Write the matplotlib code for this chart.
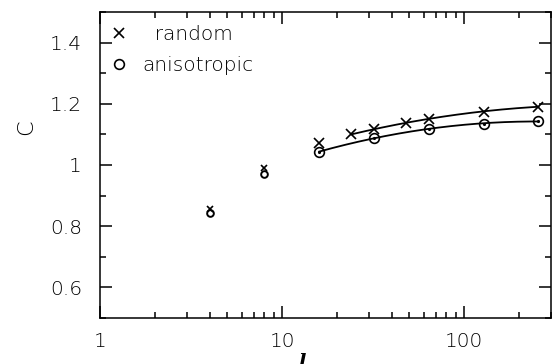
import numpy as np
import matplotlib
matplotlib.use('Agg')
import matplotlib.pyplot as plt
from matplotlib.ticker import FixedLocator, NullFormatter, MultipleLocator, FuncFormatter

plt.rcParams['font.family'] = ['DejaVu Sans']

# small lattices (no fit)
lSmall = [4, 8]
randomSmall = [0.855, 0.99]
anisoSmall = [0.844, 0.971]

# larger lattices
lRandom = [16, 24, 32, 48, 64, 128, 256]
cRandom = [1.073, 1.100, 1.118, 1.138, 1.151, 1.174, 1.191]
lAniso = [16, 32, 64, 128, 256]
cAniso = [1.043, 1.089, 1.118, 1.135, 1.143]

# range covered by the fitted curves
fitRandom = (24, 256)
fitAniso = (16, 256)


def _fitCurve(lValues, cValues, lRange):
	coeffs = np.polyfit(np.log10(lValues), cValues, 2)
	xs = np.logspace(np.log10(lRange[0]), np.log10(lRange[1]), 200)
	return xs, np.polyval(coeffs, np.log10(xs))


fig = plt.figure(figsize=(5.52, 3.64), dpi=100)
ax = fig.add_axes([100 / 552, 46 / 364, 451 / 552, 306 / 364])

xs, ys = _fitCurve(lRandom, cRandom, fitRandom)
ax.plot(xs, ys, color='black', lw=1.3)
xs, ys = _fitCurve(lAniso, cAniso, fitAniso)
ax.plot(xs, ys, color='black', lw=1.3)

ax.plot(lRandom, cRandom, ls='none', marker='x', ms=6.5, mew=1.2, color='black', label='  random')
ax.plot(lAniso, cAniso, ls='none', marker='o', ms=7, mew=1.2, mfc='none', mec='black', label='anisotropic')
ax.plot(lAniso, cAniso, ls='none', marker='.', ms=2.5, color='black')

ax.plot(lSmall, randomSmall, ls='none', marker='x', ms=4.5, mew=1.2, color='black')
ax.plot(lSmall, anisoSmall, ls='none', marker='o', ms=4.8, mew=1.4, mfc='none', mec='black')

ax.set_xscale('log')
ax.set_xlim(1, 300)
ax.set_ylim(0.5, 1.5)

ax.xaxis.set_major_locator(FixedLocator([1, 10, 100]))
ax.xaxis.set_major_formatter(FuncFormatter(lambda v, p: '{:g}'.format(v)))
ax.xaxis.set_minor_formatter(NullFormatter())
ax.yaxis.set_major_locator(FixedLocator([0.6, 0.8, 1.0, 1.2, 1.4]))
ax.yaxis.set_major_formatter(FuncFormatter(lambda v, p: '{:g}'.format(v)))
ax.yaxis.set_minor_locator(MultipleLocator(0.1))

ax.tick_params(which='both', direction='in', top=True, right=True, width=1.1,
	labelsize=14.5, colors='black', labelcolor='black')
ax.tick_params(which='major', length=8.5)
ax.tick_params(axis='y', which='major', pad=13)
ax.tick_params(axis='x', which='major', pad=10)
ax.tick_params(which='minor', length=4.3)
for spine in ax.spines.values():
	spine.set_linewidth(1.1)
for label in ax.get_xticklabels() + ax.get_yticklabels():
	label.set_fontweight('light')

ax.set_ylabel('C', fontsize=16, color='black', fontweight='light')
ax.yaxis.set_label_coords(-0.142, 0.625)
ax.set_xlabel('l', fontsize=14, fontstyle='italic', fontweight='bold', family='DejaVu Serif')
ax.xaxis.set_label_coords(0.447, -0.115)

leg = ax.legend(loc='upper left', frameon=False, fontsize=14.5, handlelength=0.6,
	handletextpad=0.85, borderaxespad=0.5, labelspacing=0.6, borderpad=0.15,
	labelcolor='black')
for text in leg.get_texts():
	text.set_fontweight('light')

plt.savefig('out.png', dpi=100)
